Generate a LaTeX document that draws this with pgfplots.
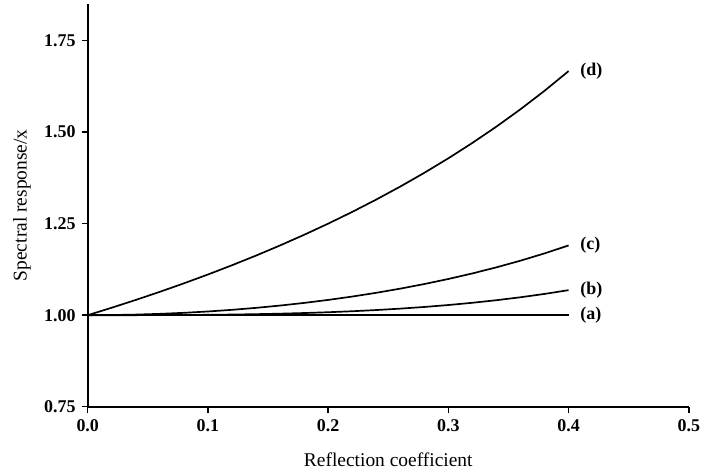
\documentclass[border=0pt]{standalone}
\usepackage{pgfplots}
\pgfplotsset{compat=1.18}
\usepackage{fontspec}
\setmainfont{Liberation Serif}
\begin{document}
\fontsize{18}{20}\selectfont
\begin{tikzpicture}
\begin{axis}[
  scale only axis, width=603pt, height=404pt,
  xmin=0, xmax=0.5, ymin=0.75, ymax=1.85,
  axis x line*=bottom, axis y line*=left,
  axis line style={line width=1.8pt, -},
  xtick={0,0.1,0.2,0.3,0.4,0.5},
  xticklabels={0.0,0.1,0.2,0.3,0.4,0.5},
  ytick={0.75,1,1.25,1.5,1.75},
  yticklabels={0.75,1.00,1.25,1.50,1.75},
  tick align=outside, major tick length=6pt,
  every tick/.style={black, line width=1.4pt},
  tick label style={font=\fontsize{18}{20}\selectfont\bfseries},
  xticklabel style={yshift=-1pt},
  every axis y label/.style={at={([xshift=-66pt]axis description cs:0,0.5)}, rotate=90, anchor=center},
  every axis x label/.style={at={([yshift=-53pt]axis description cs:0.5,0)}, anchor=center},
  label style={font=\fontsize{19.5}{22}\selectfont},
  xlabel={Reflection coefficient},
  ylabel={Spectral response/x},
  clip=false,
  cycle list={{black, line width=1.7pt}},
  every axis plot post/.append style={black, line width=1.7pt, no marks},
]
\path[use as bounding box] ([xshift=-88pt,yshift=-65pt]rel axis cs:0,0) rectangle ([xshift=15pt,yshift=4pt]rel axis cs:1,1);
% (a)
\addplot coordinates {(0,1) (0.4,1)} node[pos=1, right=5pt, text=black, font=\fontsize{18}{20}\selectfont\bfseries] {(a)};
% (b)
\addplot coordinates {(0,1) (0.02,1.000008) (0.04,1.000064) (0.06,1.000216) (0.08,1.000512) (0.10,1.001001) (0.12,1.001731) (0.14,1.002752) (0.16,1.004113) (0.18,1.005866) (0.20,1.008065) (0.22,1.010763) (0.24,1.014018) (0.26,1.017890) (0.28,1.022445) (0.30,1.027749) (0.32,1.033878) (0.34,1.040912) (0.36,1.048939) (0.38,1.058058) (0.40,1.068376)} node[pos=1, right=5pt, text=black, font=\fontsize{18}{20}\selectfont\bfseries] {(b)};
% (c)
\addplot coordinates {(0,1) (0.02,1.000400) (0.04,1.001603) (0.06,1.003613) (0.08,1.006441) (0.10,1.010101) (0.12,1.014610) (0.14,1.019992) (0.16,1.026273) (0.18,1.033485) (0.20,1.041667) (0.22,1.050862) (0.24,1.061121) (0.26,1.072501) (0.28,1.085069) (0.30,1.098901) (0.32,1.114082) (0.34,1.130710) (0.36,1.148897) (0.38,1.168770) (0.40,1.190476)} node[pos=1, right=5pt, text=black, font=\fontsize{18}{20}\selectfont\bfseries] {(c)};
% (d)
\addplot coordinates {(0,1) (0.02,1.020408) (0.04,1.041667) (0.06,1.063830) (0.08,1.086957) (0.10,1.111111) (0.12,1.136364) (0.14,1.162791) (0.16,1.190476) (0.18,1.219512) (0.20,1.25) (0.22,1.282051) (0.24,1.315789) (0.26,1.351351) (0.28,1.388889) (0.30,1.428571) (0.32,1.470588) (0.34,1.515152) (0.36,1.5625) (0.38,1.612903) (0.40,1.666667)} node[pos=1, right=5pt, text=black, font=\fontsize{18}{20}\selectfont\bfseries] {(d)};
\end{axis}
\end{tikzpicture}
\end{document}
